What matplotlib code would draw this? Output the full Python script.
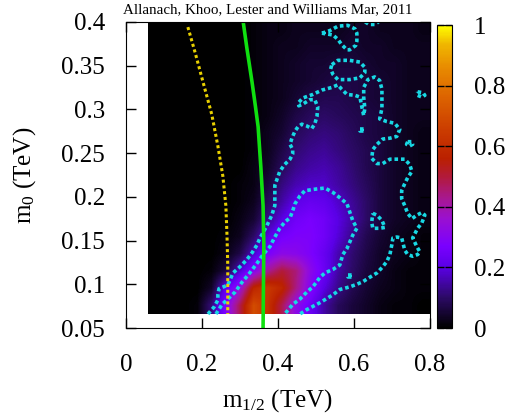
import numpy as np
import matplotlib
matplotlib.use("Agg")
import matplotlib.pyplot as plt
from matplotlib.colors import LinearSegmentedColormap

plt.rcParams['font.family'] = ['Liberation Serif', 'DejaVu Serif']
plt.rcParams['mathtext.fontset'] = 'custom'
plt.rcParams['mathtext.rm'] = 'Liberation Serif'
plt.rcParams['mathtext.it'] = 'Liberation Serif:italic'

# ---- data -------------------------------------------------------------
# posterior density grid (x 100), rows from m0 = 0.40 (top) down to 0.066
heat_extent = (0.058, 0.80, 0.066, 0.40)
heat_rows = [
    [0, 0, 0, 0, 0, 0, 0, 1, 2, 2, 3, 3, 3, 3, 4, 4, 3, 3, 3, 2],
    [0, 0, 0, 0, 0, 0, 0, 1, 2, 3, 3, 4, 4, 4, 5, 4, 4, 3, 3, 3],
    [0, 0, 0, 0, 0, 0, 0, 1, 2, 3, 4, 5, 5, 6, 6, 5, 4, 4, 3, 3],
    [0, 0, 0, 0, 0, 0, 0, 1, 2, 3, 4, 5, 6, 7, 7, 6, 5, 4, 3, 3],
    [0, 0, 0, 0, 0, 0, 0, 1, 2, 3, 5, 7, 8, 8, 7, 6, 5, 4, 3, 3],
    [0, 0, 0, 0, 0, 0, 0, 1, 2, 4, 7, 9, 10, 9, 8, 7, 6, 4, 3, 3],
    [0, 0, 0, 0, 0, 0, 0, 1, 3, 5, 9, 11, 12, 11, 9, 7, 6, 4, 3, 2],
    [0, 0, 0, 0, 0, 0, 0, 1, 3, 7, 11, 13, 14, 12, 10, 8, 6, 4, 3, 2],
    [0, 0, 0, 0, 0, 0, 0, 2, 4, 9, 13, 15, 16, 14, 11, 8, 6, 4, 3, 2],
    [0, 0, 0, 0, 0, 0, 1, 2, 6, 12, 16, 18, 18, 15, 12, 9, 6, 4, 3, 2],
    [0, 0, 0, 0, 0, 0, 1, 3, 9, 15, 21, 23, 22, 18, 14, 10, 6, 4, 3, 2],
    [0, 0, 0, 0, 0, 0, 2, 5, 13, 20, 25, 27, 25, 20, 15, 10, 6, 4, 3, 2],
    [0, 0, 0, 0, 0, 1, 3, 10, 20, 26, 28, 28, 25, 19, 13, 8, 5, 3, 2, 1],
    [0, 0, 0, 0, 0, 2, 7, 18, 27, 32, 31, 28, 23, 16, 11, 7, 4, 3, 2, 1],
    [0, 0, 0, 0, 1, 6, 18, 30, 42, 50, 45, 32, 24, 15, 10, 6, 4, 2, 1, 1],
    [0, 0, 0, 0, 4, 22, 34, 58, 64, 58, 44, 30, 20, 13, 8, 5, 3, 2, 1, 1],
    [0, 0, 0, 1, 12, 28, 48, 70, 62, 48, 32, 24, 15, 9, 6, 4, 2, 1, 1, 0],
]

# exclusion curves
yellow_x = [0.163, 0.182, 0.203, 0.226, 0.242, 0.255, 0.263, 0.266, 0.268, 0.268]
yellow_y = [0.394, 0.365, 0.331, 0.294, 0.258, 0.224, 0.190, 0.156, 0.122, 0.066]
green_x = [0.308, 0.318, 0.332, 0.341, 0.348, 0.355, 0.361, 0.363, 0.361]
green_y = [0.402, 0.371, 0.331, 0.303, 0.280, 0.235, 0.190, 0.145, 0.050]

# credible-region contours (m_1/2, m0)
outer_x = [0.216, 0.232, 0.242, 0.242, 0.245, 0.268, 0.274, 0.282, 0.300, 0.318,
           0.332, 0.345, 0.353, 0.361, 0.371, 0.384, 0.392, 0.392, 0.392, 0.405,
           0.418, 0.432, 0.439, 0.439, 0.432, 0.437, 0.445, 0.453, 0.463, 0.476,
           0.489, 0.497, 0.503, 0.505, 0.497, 0.484, 0.466, 0.455, 0.455, 0.466,
           0.492, 0.516, 0.542, 0.558, 0.568, 0.582, 0.603, 0.616, 0.621, 0.626,
           0.629, 0.626, 0.626, 0.637, 0.655, 0.668, 0.674, 0.674, 0.674, 0.668,
           0.687, 0.708, 0.721, 0.713, 0.695, 0.676, 0.661, 0.650, 0.647, 0.661,
           0.676, 0.695, 0.713, 0.734, 0.747, 0.753, 0.742, 0.734, 0.726, 0.726,
           0.734, 0.742, 0.753, 0.766, 0.779, 0.787, 0.779, 0.768, 0.761, 0.755,
           0.766, 0.774, 0.768, 0.755, 0.742, 0.734, 0.729, 0.726, 0.713, 0.703,
           0.700, 0.695, 0.687, 0.674, 0.661, 0.642, 0.624, 0.608, 0.589, 0.563,
           0.545, 0.511, 0.476, 0.458]
outer_y = [0.066, 0.074, 0.082, 0.088, 0.095, 0.099, 0.105, 0.113, 0.120, 0.128,
           0.136, 0.145, 0.153, 0.159, 0.167, 0.179, 0.190, 0.201, 0.213, 0.229,
           0.237, 0.243, 0.249, 0.254, 0.260, 0.267, 0.275, 0.280, 0.283, 0.281,
           0.278, 0.283, 0.292, 0.303, 0.311, 0.311, 0.306, 0.304, 0.308, 0.313,
           0.317, 0.322, 0.325, 0.328, 0.323, 0.317, 0.316, 0.314, 0.303, 0.293,
           0.301, 0.314, 0.325, 0.334, 0.337, 0.333, 0.323, 0.311, 0.301, 0.289,
           0.286, 0.284, 0.277, 0.269, 0.267, 0.266, 0.260, 0.254, 0.244, 0.238,
           0.238, 0.243, 0.243, 0.243, 0.237, 0.229, 0.222, 0.215, 0.207, 0.198,
           0.190, 0.181, 0.175, 0.179, 0.182, 0.179, 0.170, 0.164, 0.158, 0.153,
           0.143, 0.137, 0.134, 0.132, 0.134, 0.139, 0.148, 0.153, 0.154, 0.153,
           0.145, 0.134, 0.126, 0.119, 0.113, 0.108, 0.103, 0.100, 0.097, 0.094,
           0.088, 0.079, 0.071, 0.066]
inner_x = [0.237, 0.253, 0.268, 0.287, 0.305, 0.326, 0.345, 0.361, 0.379, 0.392,
           0.405, 0.418, 0.432, 0.439, 0.445, 0.458, 0.471, 0.503, 0.524, 0.545,
           0.563, 0.582, 0.589, 0.597, 0.608, 0.597, 0.589, 0.582, 0.571, 0.563,
           0.545, 0.524, 0.511, 0.492, 0.476, 0.458, 0.439, 0.424, 0.418]
inner_y = [0.066, 0.077, 0.083, 0.091, 0.102, 0.113, 0.124, 0.134, 0.143, 0.154,
           0.164, 0.171, 0.176, 0.184, 0.192, 0.201, 0.207, 0.209, 0.210, 0.205,
           0.199, 0.192, 0.183, 0.173, 0.164, 0.156, 0.148, 0.141, 0.134, 0.122,
           0.117, 0.113, 0.108, 0.097, 0.091, 0.083, 0.077, 0.069, 0.066]
island_xs = [
    [0.516, 0.537, 0.558, 0.584, 0.603, 0.608, 0.608, 0.605, 0.589, 0.582, 0.568, 0.558, 0.545, 0.516],
    [0.542, 0.558, 0.589, 0.616, 0.629, 0.629, 0.616, 0.589, 0.558, 0.545, 0.539, 0.542],
    [0.630, 0.640, 0.655, 0.665],
    [0.650, 0.661, 0.674, 0.682, 0.668, 0.650, 0.647, 0.650],
    [0.742, 0.753, 0.755, 0.747, 0.739, 0.742],
    [0.768, 0.782, 0.787, 0.779, 0.768, 0.768],
    [0.616, 0.626, 0.626, 0.616, 0.616],
    [0.584, 0.595, 0.595, 0.584, 0.584],
]
island_ys = [
    [0.387, 0.390, 0.395, 0.396, 0.392, 0.387, 0.378, 0.373, 0.368, 0.368, 0.374, 0.380, 0.385, 0.387],
    [0.351, 0.356, 0.356, 0.354, 0.348, 0.342, 0.336, 0.334, 0.334, 0.340, 0.346, 0.351],
    [0.400, 0.397, 0.397, 0.400],
    [0.181, 0.179, 0.173, 0.165, 0.164, 0.164, 0.171, 0.181],
    [0.263, 0.263, 0.260, 0.258, 0.260, 0.263],
    [0.320, 0.319, 0.316, 0.314, 0.316, 0.320],
    [0.278, 0.278, 0.275, 0.275, 0.278],
    [0.111, 0.111, 0.108, 0.108, 0.111],
]

x_ticks = [0, 0.2, 0.4, 0.6, 0.8]
x_labels = ['0', '0.2', '0.4', '0.6', '0.8']
y_ticks = [0.05, 0.1, 0.15, 0.2, 0.25, 0.3, 0.35, 0.4]
y_labels = ['0.05', '0.1', '0.15', '0.2', '0.25', '0.3', '0.35', '0.4']
cb_ticks = [0, 0.2, 0.4, 0.6, 0.8, 1]
cb_labels = ['0', '0.2', '0.4', '0.6', '0.8', '1']

# ---- palette ----------------------------------------------------------
pal = LinearSegmentedColormap.from_list('pal', [
    (0.00, '#000000'), (0.10, '#2c0a66'), (0.20, '#5a00e6'), (0.27, '#7a00ff'),
    (0.36, '#9a10d0'), (0.43, '#a8188e'), (0.50, '#b21a3a'), (0.56, '#ba2000'),
    (0.66, '#cc3e00'), (0.76, '#dc6200'), (0.86, '#e88a00'), (0.94, '#f0b800'),
    (1.00, '#ffff00')])

fig = plt.figure(figsize=(5.08, 4.20), dpi=100)
ax = fig.add_axes([0.248, 0.219, 0.598, 0.729])
cax = fig.add_axes([0.860, 0.219, 0.0295, 0.721])

grid = np.array(heat_rows) / 100.0
im = ax.imshow(grid, extent=heat_extent, origin='upper', aspect='auto',
               cmap=pal, vmin=0, vmax=1, interpolation='bilinear')

cyan = '#18d8e4'
ax.plot(outer_x, outer_y, color=cyan, lw=2.6, ls=(0, (1, 0.8)))
ax.plot(inner_x, inner_y, color=cyan, lw=2.6, ls=(0, (1, 0.8)))
for xs, ys in zip(island_xs, island_ys):
    ax.plot(xs, ys, color=cyan, lw=2.6, ls=(0, (1, 0.8)))
ax.plot(yellow_x, yellow_y, color='#e8d000', lw=2.2, ls=(0, (1, 0.9)))
ax.plot(green_x, green_y, color='#10e010', lw=2.6)

ax.set_xlim(0, 0.8)
ax.set_ylim(0.05, 0.4)
ax.set_xticks(x_ticks)
ax.set_xticklabels(x_labels)
ax.set_yticks(y_ticks)
ax.set_yticklabels(y_labels)
ax.tick_params(direction='in', top=True, right=True, length=7, width=1,
               labelsize=18)
ax.tick_params(axis='x', pad=19)
ax.tick_params(axis='y', pad=15)
ax.set_xlabel('m$_{1/2}$ (TeV)', fontsize=18, labelpad=8)
ax.set_ylabel('m$_0$ (TeV)', fontsize=18, labelpad=17)

cb = fig.colorbar(im, cax=cax)
cb.set_ticks(cb_ticks)
cb.set_ticklabels(cb_labels)
cb.ax.tick_params(direction='in', length=5, width=1, labelsize=18, pad=16,
                  left=True, right=True)

fig.text(0.527, 0.976, 'Allanach, Khoo, Lester and Williams Mar, 2011',
         ha='center', va='center', fontsize=10.8)

fig.savefig('out.png', dpi=100)
